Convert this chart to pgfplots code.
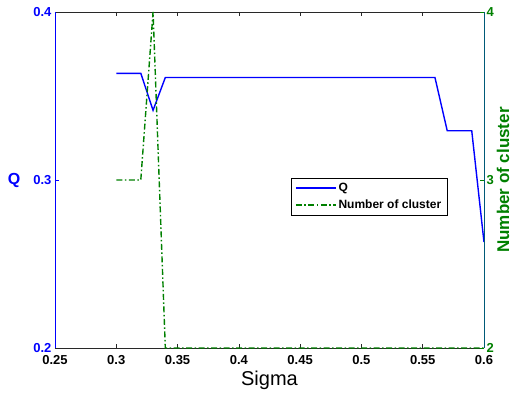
\documentclass[border=0pt]{standalone}
\usepackage{pgfplots}
\pgfplotsset{compat=1.18}
\usepackage{fontspec}
\setmainfont{Liberation Sans}
\definecolor{qblue}{RGB}{0,0,255}
\definecolor{cgreen}{RGB}{0,128,0}
\definecolor{rspine}{RGB}{0,90,120}
\definecolor{xgray}{RGB}{40,40,40}
\pgfplotstableread{
x q
0.30 0.3635
0.31 0.3635
0.32 0.3635
0.33 0.3415
0.34 0.3610
0.35 0.3610
0.40 0.3610
0.45 0.3610
0.50 0.3610
0.55 0.3610
0.56 0.3610
0.57 0.3293
0.58 0.3293
0.59 0.3293
0.60 0.2630
}\qtable
\pgfplotstableread{
x n
0.30 3
0.31 3
0.32 3
0.33 4
0.34 2
0.35 2
0.40 2
0.45 2
0.50 2
0.55 2
0.60 2
}\ntable
\begin{document}
\begin{tikzpicture}
\useasboundingbox (-55pt,-48pt) rectangle (459pt,348pt);
\begin{axis}[
  at={(0pt,0pt)}, anchor=south west,
  scale only axis, width=429pt, height=336pt,
  xmin=0.25, xmax=0.6, ymin=0.2, ymax=0.4,
  xtick={0.25,0.3,0.35,0.4,0.45,0.5,0.55,0.6},
  ytick={0.2,0.3,0.4},
  axis y line*=left,
  y axis line style={draw=qblue, line width=0.8pt},
  x axis line style={draw=xgray, line width=0.8pt},
  tick align=inside,
  major tick length=4pt,
  xtick style={draw=xgray, line width=0.6pt},
  ytick style={draw=qblue, line width=0.6pt},
  /pgf/number format/assume math mode=true,
  ticklabel style={font=\bfseries\fontsize{13}{15}\selectfont},
  xticklabel style={yshift=-4pt},
  yticklabel style={text=qblue},
  xlabel={Sigma},
  xlabel style={font=\fontsize{20}{24}\selectfont, at={(rel axis cs:0.5,0)}, anchor=center, yshift=-32pt},
  ylabel={Q},
  ylabel style={font=\bfseries\fontsize{16}{19}\selectfont, text=qblue, rotate=-90, at={(rel axis cs:0,0.5)}, anchor=center, xshift=-41pt},
  clip=false,
]
\addplot[qblue, line width=1.4pt] table[x=x, y=q] {\qtable};
\end{axis}
\begin{axis}[
  at={(0pt,0pt)}, anchor=south west,
  scale only axis, width=429pt, height=336pt,
  xmin=0.25, xmax=0.6, ymin=2, ymax=4,
  ytick={2,3,4},
  axis x line=none,
  axis y line*=right,
  y axis line style={draw=rspine, line width=0.8pt},
  ytick style={draw=cgreen, line width=0.6pt},
  tick align=inside,
  major tick length=4pt,
  /pgf/number format/assume math mode=true,
  ticklabel style={font=\bfseries\fontsize{13}{15}\selectfont},
  yticklabel style={text=cgreen, xshift=-1pt},
  ylabel={Number of cluster},
  ylabel style={font=\bfseries\fontsize{17}{20}\selectfont, text=cgreen, at={(rel axis cs:1,0.5)}, anchor=center, yshift=-19pt},
  clip=false,
  legend style={at={(rel axis cs:0.55,0.506)}, anchor=north west, draw=black,
    font=\bfseries\fontsize{12}{14}\selectfont, inner xsep=4pt, inner ysep=3pt, row sep=3pt, cells={anchor=west}},
  legend image code/.code={\draw[#1] (0pt,0pt) -- (40pt,0pt);},
]
\addlegendimage{draw=qblue, line width=1.4pt}
\addlegendentry{Q}
\addplot[draw=cgreen, line width=1.4pt, dash pattern=on 6pt off 2.5pt on 1.5pt off 2.5pt] table[x=x, y=n] {\ntable};
\addlegendentry{Number of cluster}
\end{axis}
\end{tikzpicture}
\end{document}
